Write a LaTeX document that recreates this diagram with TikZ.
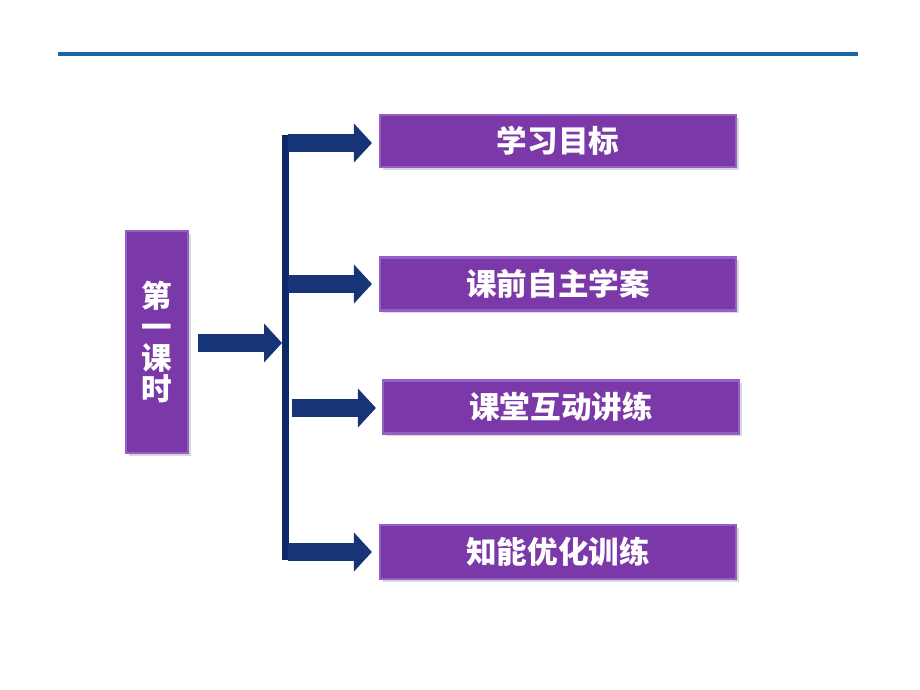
\documentclass[tikz,border=0pt]{standalone}
\usepackage{fontspec}
\newfontfamily\cjk{Noto Sans CJK SC}
\usetikzlibrary{arrows.meta,shadows}
\definecolor{kepurple}{RGB}{122,56,168}
\definecolor{keedge}{RGB}{150,95,195}
\definecolor{kenavy}{RGB}{22,52,118}
\definecolor{kebar}{RGB}{12,40,105}
\definecolor{keline}{RGB}{30,100,170}
\tikzset{
  kebox/.style={rectangle, fill=kepurple, draw=keedge, line width=1.2pt,
    text=white, font=\cjk\bfseries\fontsize{17.4}{17.8}\selectfont, inner sep=0pt,
    drop shadow={opacity=0.3, shadow xshift=1.5pt, shadow yshift=-1.5pt}},
  kearrow/.style={draw=kenavy, line width=18*0.02cm,
    -{Triangle[length=18*0.02cm, width=38*0.02cm]}}
}
\begin{document}
\begin{tikzpicture}[x=0.02cm, y=-0.02cm]
\useasboundingbox (0,0) rectangle (920,690);
\draw[keline, line width=3.5*0.02cm] (58,54) -- (858,54);
\node[kebox, minimum width=62*0.02cm, minimum height=222*0.02cm, align=center] (keshi) at (157,342){第\\一\\课\\时};
\node[kebox, minimum width=356*0.02cm, minimum height=52*0.02cm] (mubiao) at (558,141){学习目标};
\node[kebox, minimum width=356*0.02cm, minimum height=53*0.02cm] (xuean) at (558,284){课前自主学案};
\node[kebox, minimum width=356*0.02cm, minimum height=53*0.02cm] (hudong) at (561,407){课堂互动讲练};
\node[kebox, minimum width=356*0.02cm, minimum height=54*0.02cm] (xunlian) at (558,552){知能优化训练};
\coordinate (bartop) at (285.5,135);
\coordinate (barbot) at (285.5,560);
\coordinate (bar1) at (288,143);
\coordinate (bar2) at (288,284);
\coordinate (bar3) at (292,408);
\coordinate (bar4) at (288,552);
\coordinate (barin) at (282,343);
\draw[kebar, line width=7*0.02cm] (bartop) -- (barbot);
\draw[kearrow, shorten <=9*0.02cm] (keshi.east |- barin) -- (barin);
\draw[kearrow, shorten >=7*0.02cm] (bar1) -- (mubiao.west |- bar1);
\draw[kearrow, shorten >=7*0.02cm] (bar2) -- (xuean.west |- bar2);
\draw[kearrow, shorten >=6*0.02cm] (bar3) -- (hudong.west |- bar3);
\draw[kearrow, shorten >=7*0.02cm] (bar4) -- (xunlian.west |- bar4);
\end{tikzpicture}
\end{document}
